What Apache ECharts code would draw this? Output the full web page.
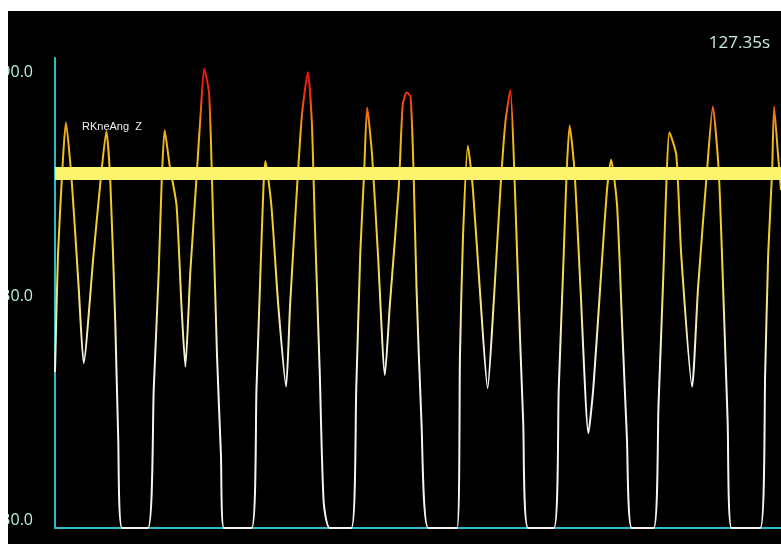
<!DOCTYPE html>
<html>
<head>
<meta charset="utf-8">
<script src="https://cdn.jsdelivr.net/npm/echarts@6/dist/echarts.min.js"></script>
<style>
    html, body { margin: 0; padding: 0; background: #ffffff; }
    #kneeChart { position: absolute; left: 8px; top: 11px; width: 773px; height: 533px; background: #000; }
</style>
</head>
<body>
<div id="kneeChart"></div>
<script>
// time (s) of each sample
var times = [
    120.00, 120.03, 120.08, 120.11, 120.17, 120.24, 120.29, 120.39, 120.46, 120.52,
    120.56, 120.61, 120.64, 120.68, 120.94, 121.00, 121.05, 121.08, 121.11, 121.16,
    121.23, 121.28, 121.32, 121.37, 121.43, 121.48, 121.51, 121.56, 121.59, 121.64,
    121.68, 121.71, 121.99, 122.04, 122.08, 122.11, 122.13, 122.19, 122.26, 122.34,
    122.38, 122.45, 122.50, 122.56, 122.60, 122.63, 122.68, 122.72, 122.78, 123.00,
    123.05, 123.09, 123.13, 123.16, 123.21, 123.27, 123.34, 123.39, 123.48, 123.52,
    123.56, 123.60, 123.63, 123.66, 123.71, 123.78, 124.07, 124.10, 124.13, 124.18,
    124.23, 124.30, 124.38, 124.44, 124.51, 124.56, 124.61, 124.65, 124.69, 124.74,
    124.79, 125.05, 125.10, 125.15, 125.18, 125.21, 125.26, 125.32, 125.40, 125.45,
    125.53, 125.59, 125.63, 125.69, 125.74, 125.79, 125.84, 126.06, 126.11, 126.16,
    126.19, 126.22, 126.29, 126.34, 126.45, 126.51, 126.60, 126.66, 126.72, 126.77,
    126.81, 126.85, 127.14, 127.19, 127.22, 127.26, 127.28, 127.32, 127.35
];
// right knee angle Z (deg)
var kneeAng = [
    11.8, 43.2, 68.7, 78.8, 62.8, 34.3, 14.2, 43.2, 62.8, 76.4,
    62.8, 25.3, -5.9, -30, -30, 7.5, 38.7, 62.8, 76.7, 67.3,
    56.6, 29.8, 13.2, 38.7, 62.8, 83.4, 93.2, 86.5, 62.8, 16.4,
    -10.4, -30, -30, 7.5, 38.7, 61.1, 68.4, 56.6, 29.8, 7.9,
    29.8, 61.1, 80.7, 92.2, 78.9, 52.1, 11.9, -23.0, -30, -30,
    7.5, 43.2, 65.5, 82.7, 70.0, 43.2, 11.0, 29.8, 61.1, 83.4,
    86.8, 85.6, 65.5, 34.3, -1.5, -30, -30, 16.4, 47.7, 72.5,
    61.1, 34.3, 7.5, 29.8, 61.1, 78.9, 87.4, 65.5, 34.3, -1.5,
    -30, -30, 7.5, 43.2, 65.5, 77.9, 65.5, 34.3, -4.6, 7.5,
    38.7, 61.1, 68.7, 56.6, 25.3, -5.9, -30, -30, 3.0, 38.7,
    62.8, 76.1, 70.0, 43.2, 7.9, 34.3, 65.5, 83.0, 65.5, 29.8,
    -1.5, -30, -30, 11.9, 43.2, 65.5, 83.0, 70.0, 60.6
];
var yLabels = [-30, 30, 90];
var refLevel = 65;
var timeLabel = '127.35s';
var channelName = 'RKneAng  Z';

var chart = echarts.init(document.getElementById('kneeChart'));

var points = times.map(function (t, i) { return [t, kneeAng[i]]; });

chart.setOption({
    backgroundColor: '#000000',
    animation: false,
    grid: { left: 47, right: 0, top: 47, bottom: 16, containLabel: false, outerBoundsMode: 'none' },
    visualMap: {
        show: false,
        type: 'continuous',
        dimension: 1,
        seriesIndex: 0,
        min: -29.5,
        max: 96,
        inRange: {
            color: ['#f4f4f4', '#f4f4f4', '#f4f4f4', '#f4f4f4', '#f4f4f4', '#f4f4f4', '#f4f4f4',
                '#f4f4f4', '#f6f6ee', '#f6f4dc', '#f6f0c0', '#f4eaa0', '#f4e480', '#f2de60',
                '#f2d848', '#f0d438', '#f0d030', '#f0cc28', '#f0c820', '#f0c418', '#f0c018',
                '#f0b018', '#f07018', '#f03010', '#e81810', '#e81010']
        },
        outOfRange: { color: '#e09020' }
    },
    xAxis: {
        type: 'value',
        min: 120,
        max: 127.35,
        axisLine: { show: true, onZero: false, lineStyle: { color: '#2bbcc4', width: 2 } },
        axisTick: { show: false },
        axisLabel: { show: false },
        splitLine: { show: false }
    },
    yAxis: {
        type: 'value',
        min: -30,
        max: 96,
        interval: 30,
        axisLine: { show: true, lineStyle: { color: '#2bbcc4', width: 2 } },
        axisTick: { show: false },
        splitLine: { show: false },
        axisLabel: {
            margin: 22,
            color: '#b8f0dc',
            fontSize: 16,
            fontFamily: 'Open Sans',
            verticalAlign: 'bottom',
            formatter: function (v) {
                return yLabels.indexOf(v) >= 0 ? v.toFixed(1) : '';
            }
        }
    },
    series: [
        {
            type: 'line',
            data: points,
            showSymbol: false,
            smooth: 0.2,
            clip: false,
            lineStyle: { width: 2 },
            z: 2
        },
        {
            type: 'line',
            data: [],
            z: 5,
            markLine: {
                silent: true,
                symbol: 'none',
                label: { show: false },
                lineStyle: { color: '#fcf46c', width: 13, type: 'solid' },
                data: [{ yAxis: refLevel }]
            }
        }
    ],
    graphic: [
        {
            type: 'text',
            left: 74, top: 110,
            style: { text: channelName, fill: '#f0f0f0', font: '11px "Liberation Sans"' }
        },
        {
            type: 'text',
            right: 11, top: 24,
            style: { text: timeLabel, fill: '#c8f0dc', font: '17px "Open Sans"' }
        }
    ]
});
</script>
</body>
</html>
